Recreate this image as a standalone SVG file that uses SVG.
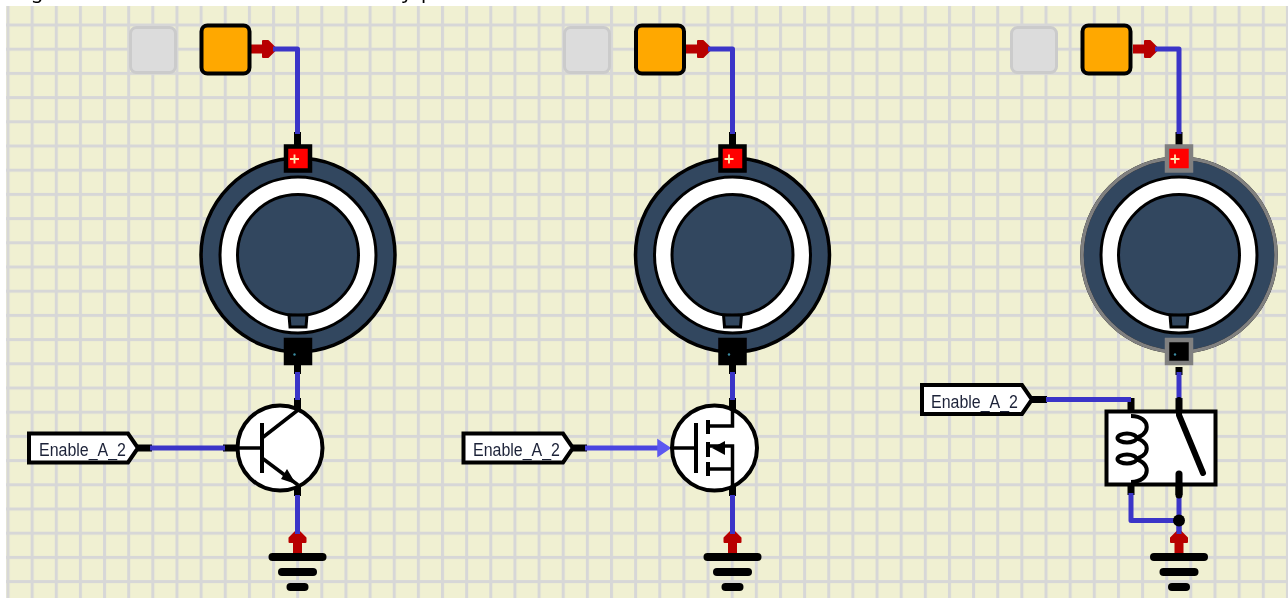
<svg xmlns="http://www.w3.org/2000/svg" xmlns:xlink="http://www.w3.org/1999/xlink" width="1288" height="598" viewBox="0 0 1288 598">
<style>
.cap{font:20px "Noto Sans","Liberation Sans",sans-serif;fill:#000}
.off{fill:#dcdcdc;stroke:#cbcbcb;stroke-width:3}
.src{fill:#ffa800;stroke:#000;stroke-width:4}
.body{fill:#32465f;stroke:#000;stroke-width:3.5}
.ring{fill:#fff;stroke:#000;stroke-width:3}
.core{fill:#32465f;stroke:#000;stroke-width:3}
.pinp{fill:#f00;stroke:#000;stroke-width:4.500}
.pinn{fill:#000;stroke:#000;stroke-width:4.500}
.dim{stroke:#808080}
.plus{stroke:#ffe9b0;stroke-width:1.8;fill:none}
.wire{fill:none;stroke:#3a35c8;stroke-width:5;stroke-linejoin:round}
.stub{fill:none;stroke:#000;stroke-width:7}
.red{fill:none;stroke:#b80000;stroke-width:9}
.redh{fill:#b80000;stroke:#b80000;stroke-width:2;stroke-linejoin:round}
.gnd{stroke:#000;stroke-linecap:round;fill:none}
.lab{fill:#fff;stroke:#000;stroke-width:4;stroke-linejoin:miter}
.txt{font:17.5px "Liberation Sans",Arial,sans-serif;fill:#1c2238}
.sym{fill:none;stroke:#000;stroke-width:4}
.symt{fill:none;stroke:#000;stroke-width:3.5}
.dev{fill:#fff;stroke:#000;stroke-width:4}
</style>
<defs>
<filter id="soft" x="0" y="0" width="100%" height="100%"><feGaussianBlur stdDeviation="0.45"/></filter>
<pattern id="grid" patternUnits="userSpaceOnUse" x="6.5" y="-0.7" width="24.14" height="24.2">
<rect width="24.14" height="24.2" fill="#f0f0d2"/>
<rect width="3" height="24.2" fill="#d7d7d7"/>
<rect width="24.14" height="3" fill="#d7d7d7"/>
</pattern>
<g id="ground">
<path class="gnd" stroke-width="8" d="M-25,0H25"/>
<path class="gnd" stroke-width="8" d="M-15.500,15H15.500"/>
<path class="gnd" stroke-width="8" d="M-7,30H7"/>
</g>
<g id="redUp">
<path class="red" d="M0,25V9"/>
<path class="redh" d="M-8,12V8L0,0L8,8V12Z"/>
</g>
<g id="redRight">
<path class="red" d="M0,0H16"/>
<path class="redh" d="M12,-8H17L25,0L17,8H12Z"/>
</g>
<g id="speaker">
<circle class="body" r="97"/>
<circle class="ring" r="78"/>
<circle class="core" r="60.500"/>
<path class="core" d="M-9,60H9L8,72H-8Z"/>
</g>
</defs>

<g filter="url(#soft)">
<rect x="6" y="6" width="1282" height="592" fill="url(#grid)"/>
<text class="cap" x="31" y="-2">g</text>
<text class="cap" x="402" y="-2">y</text>
<text class="cap" x="421" y="-2">p</text>

<g id="connectors">
<path class="stub" d="M297.500,132V146M297.500,362V374M297.500,398V412M297.500,484V496M138,448H152M223,448H238"/>
<path class="wire" d="M297.500,372V400M297.500,495V533M150,448H225"/>
<use xlink:href="#redRight" href="#redRight" x="251" y="49"/>
<path class="wire" d="M273,49H297.500V134"/>
<use xlink:href="#redUp" href="#redUp" x="297.500" y="530"/>
<path class="wire" d="M297.500,520V534"/>

<path class="stub" d="M732.500,132V146M732.500,362V374M732.500,398V412M732.500,484V496M573,448H587"/>
<path class="wire" d="M732.500,372V400M732.500,495V533"/>
<path d="M585,448H660" fill="none" stroke="#4a45e0" stroke-width="5"/>
<path d="M658,440L670,448L658,456Z" fill="#5c58f0" stroke="#5c58f0" stroke-width="1.500"/>
<use xlink:href="#redRight" href="#redRight" x="686" y="49"/>
<path class="wire" d="M708,49H732.500V134"/>
<use xlink:href="#redUp" href="#redUp" x="732.500" y="530"/>
<path class="wire" d="M732.500,520V534"/>

<path class="stub" d="M1179,132V146M1179,367V375M1179,398V412M1179,484V495M1131,398V416M1131,484V495M1032,399.500H1047"/>
<path class="wire" d="M1179,372V400M1179,493V533M1046,399.500H1131M1131,493V520.500H1179"/>
<use xlink:href="#redRight" href="#redRight" x="1133" y="49"/>
<path class="wire" d="M1155,49H1179V134"/>
<use xlink:href="#redUp" href="#redUp" x="1179" y="530"/>
<path class="wire" d="M1179,520V534"/>
<circle cx="1179" cy="520.500" r="6" fill="#000"/>
</g>

<g id="led-off-1"><rect class="off" x="130.500" y="27.500" width="45" height="45" rx="6"/></g>
<g id="source-1"><rect class="src" x="201.500" y="25.500" width="48" height="48" rx="6"/></g>
<g id="led-off-2"><rect class="off" x="564.500" y="27.500" width="45" height="45" rx="6"/></g>
<g id="source-2"><rect class="src" x="636" y="25.500" width="48" height="48" rx="6"/></g>
<g id="led-off-3"><rect class="off" x="1011.500" y="27.500" width="45" height="45" rx="6"/></g>
<g id="source-3"><rect class="src" x="1082.500" y="25.500" width="48" height="48" rx="6"/></g>

<g id="motor-1">
<use xlink:href="#speaker" href="#speaker" x="298" y="255"/>
<rect class="pinp" x="286" y="146.500" width="24" height="24"/>
<path class="plus" d="M290,159H299M294.500,154.500V163.500"/>
<rect class="pinn" x="286" y="340" width="24" height="23"/>
<circle cx="294.500" cy="354.500" r="1.200" fill="#3a8aa0"/>
</g>
<g id="motor-2">
<use xlink:href="#speaker" href="#speaker" x="732.500" y="255"/>
<rect class="pinp" x="720.500" y="146.500" width="24" height="24"/>
<path class="plus" d="M724.500,159H733.500M729,154.500V163.500"/>
<rect class="pinn" x="720.500" y="340" width="24" height="23"/>
<circle cx="729" cy="354.500" r="1.200" fill="#3a8aa0"/>
</g>
<g id="motor-3">
<use xlink:href="#speaker" href="#speaker" x="1179" y="255"/>
<circle cx="1179" cy="255" r="97" fill="none" stroke="#808080" stroke-width="3.500"/>
<rect class="pinp dim" x="1167" y="146.500" width="24" height="24"/>
<path class="plus" d="M1170.500,159H1179.500M1175,154.500V163.500"/>
<rect class="pinn dim" x="1167" y="340" width="24" height="23"/>
<circle cx="1175" cy="354.500" r="1.200" fill="#3a8aa0"/>
</g>

<g id="transistor-npn">
<circle class="dev" cx="280" cy="448" r="42.500"/>
<path class="symt" d="M237,448H262M262,438L298,410M262,458L298,485"/>
<path class="sym" d="M262,423V473"/>
<path d="M281,479L287,469L296,484Z" fill="#000"/>
</g>
<g id="transistor-mosfet">
<circle class="dev" cx="714.500" cy="448" r="42.500"/>
<path class="symt" d="M672,448H696M708,426H732.500V410M708,446H732.500V486M708,469H732.500"/>
<path class="sym" d="M696,423V473M708,420V434M708,442V457M708,462V476"/>
<path d="M712,448L725,441V455Z" fill="#000"/>
</g>
<g id="relay">
<rect class="dev" x="1106.500" y="411.500" width="109" height="73"/>
<path class="sym" d="M1131,416C1152,416 1152,438 1131,438M1131,438C1152,438 1152,459 1131,459M1131,459C1152,459 1152,482 1131,482"/>
<ellipse cx="1127" cy="438" rx="9.500" ry="4.500" fill="#fff" stroke="#000" stroke-width="4"/>
<ellipse cx="1127" cy="459" rx="9.500" ry="4.500" fill="#fff" stroke="#000" stroke-width="4"/>
<path d="M1179,400V415L1203,473" fill="none" stroke="#000" stroke-width="6" stroke-linecap="round" stroke-linejoin="round"/>
<path d="M1179,474V495" fill="none" stroke="#000" stroke-width="7" stroke-linecap="round"/>
</g>

<g id="ground-1"><use xlink:href="#ground" href="#ground" x="297.500" y="557"/></g>
<g id="ground-2"><use xlink:href="#ground" href="#ground" x="732.500" y="557"/></g>
<g id="ground-3"><use xlink:href="#ground" href="#ground" x="1179" y="557"/></g>

<g id="label-1">
<path class="lab" d="M29,433.500H128L138,448L128,462.500H29Z"/>
<text class="txt" x="39" y="456" textLength="87" lengthAdjust="spacingAndGlyphs">Enable_A_2</text>
</g>
<g id="label-2">
<path class="lab" d="M463.500,433.500H563L573,448L563,462.500H463.500Z"/>
<text class="txt" x="473" y="456" textLength="87" lengthAdjust="spacingAndGlyphs">Enable_A_2</text>
</g>
<g id="label-3">
<path class="lab" d="M922,385H1022L1032,399.500L1022,414H922Z"/>
<text class="txt" x="931" y="407.500" textLength="87" lengthAdjust="spacingAndGlyphs">Enable_A_2</text>
</g>
</g>
</svg>
